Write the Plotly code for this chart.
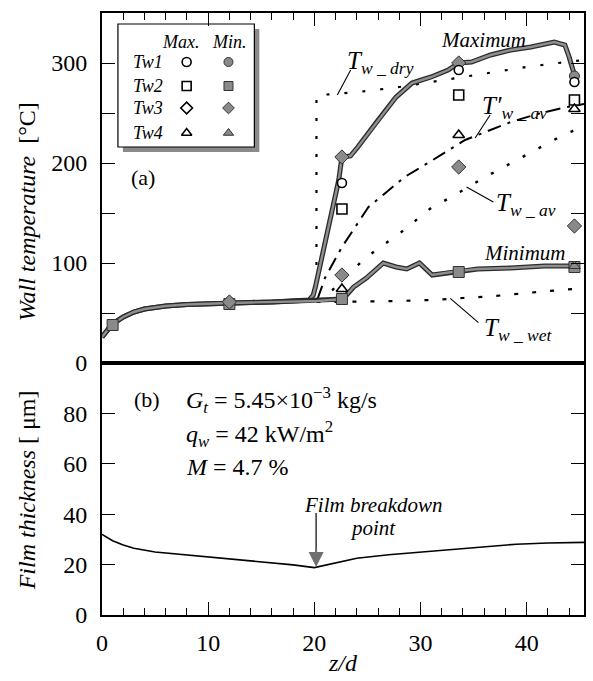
import plotly.graph_objects as go

# ---------------- data ----------------
# (a) wall temperature, maximum / minimum curves
z_max = [0, 0.5, 1, 2, 3, 4, 6, 8, 10, 12, 14, 16, 18, 19.5, 19.9, 20.1, 22.3, 22.6,
         23.4, 24.1, 25.8, 27.7, 29.2, 31.0, 32.6, 33.6, 34.8, 36.6, 38.5, 40.4,
         42.6, 43.6, 44.0, 44.5]
T_max = [26, 33, 39, 46, 51, 54, 57, 58.5, 59.5, 60, 60.5, 61, 62, 63, 68, 76, 183, 206,
         207, 216, 240, 266, 280, 286, 293, 300, 301, 308, 313, 316,
         321, 318, 306, 288]
z_min = [0, 0.5, 1, 2, 3, 4, 6, 8, 10, 12, 14, 16, 18, 19.5, 20.3, 22.7,
         23.7, 24.9, 26.5, 27.7, 28.7, 29.9, 31.1, 33.6, 35.4, 38.5, 41.7, 44.5]
T_min = [26, 33, 39, 46, 51, 54, 57, 58.5, 59.5, 60, 60.5, 61, 62, 62.5, 62, 64,
         76, 85, 100, 96, 94, 100, 88, 92, 94, 95, 97, 97]

z_dry = [20.2, 20.2, 22, 25, 28, 31, 34, 37, 40, 43, 45.4]
T_dry = [62, 268, 269, 272, 276, 281, 286, 291, 296, 300, 303]
z_wet = [20.2, 22.6, 25, 28, 31, 34, 37, 40, 43, 45.4]
T_wet = [61, 61, 61.5, 62, 63, 65, 67, 70, 73, 75]
z_avp = [20.3, 21, 22.6, 25.1, 26.7, 28.5, 30.7, 34.2, 38.5, 41, 43.8, 45.4]
T_avp = [64, 85, 116, 156, 170, 186, 200, 223, 241, 249, 256, 259]
z_av = [20.3, 21.7, 24.8, 28.2, 31.0, 32.9, 36.1, 40.4, 43.8, 45.4]
T_av = [62, 73, 105, 131, 155, 166, 186, 211, 230, 236]

# thermocouple readings
z_tc = [1.0, 12.0, 22.6, 33.6, 44.5]
tw1_max = [None, None, 180, 293, 281]
tw1_min = [None, None, None, None, 287]
tw2_max = [None, None, 154, 268, 263]
tw2_min = [38, 59, 64, 91, 96]
tw3_max = [None, None, None, None, None]
tw3_min = [None, 61, 88, 196, 137]
tw3_on_max = [None, None, 206, 300, None]
tw4_max = [None, None, 74, 228, 254]
tw4_min = [None, None, None, None, 97]

# (b) film thickness
z_film = [0, 1, 2, 3, 5, 8, 10, 12, 15, 18, 20, 22, 24, 27, 30, 33, 36, 39, 42, 45.4]
film = [32, 29.5, 27.8, 26.5, 25, 23.8, 23.2, 22.4, 21.2, 19.9, 18.8, 20.8, 22.5,
        23.9, 24.9, 25.9, 27.1, 28.1, 28.6, 28.8]

x_ticks = [0, 10, 20, 30, 40]
y1_ticks = [0, 100, 200, 300]
y2_ticks = [0, 20, 40, 60, 80]

# ---------------- layout helpers (pixel -> paper) ----------------
W, H = 593, 681
L, R, T, B = 102, 586, 13, 615
MID = 363
def px(x):
    return (x - L) / (R - L)
def py(y):
    return (B - y) / (B - T)

FONT = "'Liberation Serif', 'Times New Roman', Times, 'DejaVu Serif', serif"
fig = go.Figure()

def dline(x, y, dash, width=2.0):
    fig.add_trace(go.Scatter(x=x, y=y, mode="lines",
                             line=dict(color="black", width=width, dash=dash),
                             hoverinfo="skip", showlegend=False))

dline(z_dry, T_dry, "3px,15px", 2.2)
dline(z_wet, T_wet, "4px,14px", 2.2)
dline(z_av, T_av, "3px,15px", 2.4)
dline(z_avp, T_avp, "14px,7px,3px,7px", 2.0)

for zz, tt in [(z_max, T_max), (z_min, T_min)]:
    fig.add_trace(go.Scatter(x=zz, y=tt, mode="lines", line=dict(color="#2b2b2b", width=5),
                             hoverinfo="skip", showlegend=False))
    fig.add_trace(go.Scatter(x=zz, y=tt, mode="lines", line=dict(color="#8f8f8f", width=2.4),
                             hoverinfo="skip", showlegend=False))

FILL = "#8a8a8a"
def marks(y, symbol, filled, size=10):
    if filled:
        m = dict(symbol=symbol, size=size, color=FILL, line=dict(color="#333", width=1))
    else:
        m = dict(symbol=symbol, size=size - 1, color="white", line=dict(color="black", width=1.6))
    fig.add_trace(go.Scatter(x=z_tc, y=y, mode="markers", marker=m,
                             hoverinfo="skip", showlegend=False))

marks(tw2_min, "square", True, 11)
marks(tw3_min, "diamond", True, 11)
marks(tw3_on_max, "diamond", True, 11)
marks(tw4_min, "triangle-up", True, 10)
marks(tw1_min, "circle", True, 10)
marks(tw1_max, "circle", False, 10)
marks(tw2_max, "square", False, 11)
marks(tw3_max, "diamond", False, 11)
marks(tw4_max, "triangle-up", False, 11)

# film thickness
fig.add_trace(go.Scatter(x=z_film, y=film, mode="lines", xaxis="x2", yaxis="y2",
                         line=dict(color="black", width=1.6), hoverinfo="skip", showlegend=False))

# legend symbols on a pixel-unit overlay axis
leg_rows = [62, 86, 108, 133]
leg_syms = ["circle", "square", "diamond", "triangle-up"]
fig.add_trace(go.Scatter(x=[187] * 4, y=leg_rows, xaxis="x3", yaxis="y3", mode="markers",
                         marker=dict(symbol=leg_syms, size=9, color="white",
                                     line=dict(color="black", width=1.6)),
                         hoverinfo="skip", showlegend=False))
fig.add_trace(go.Scatter(x=[229] * 4, y=leg_rows, xaxis="x3", yaxis="y3", mode="markers",
                         marker=dict(symbol=leg_syms, size=9, color=FILL,
                                     line=dict(color="#333", width=1)),
                         hoverinfo="skip", showlegend=False))

tickfont = dict(family=FONT, size=24, color="black")
split = py(MID)
common_x = dict(range=[0, 45.4], showline=True, linecolor="black", linewidth=1.7, mirror=True,
                ticks="inside", ticklen=13, tickwidth=1.2, tickcolor="black", tickvals=x_ticks,
                minor=dict(dtick=2, tick0=0, ticks="inside", ticklen=7, tickwidth=1.1, tickcolor="black"),
                showgrid=False, zeroline=False, tickfont=tickfont)

shapes = []
def seg(x0, y0, x1, y1, w=1.1, color="black"):
    shapes.append(dict(type="line", xref="paper", yref="paper", x0=px(x0), y0=py(y0),
                       x1=px(x1), y1=py(y1), line=dict(color=color, width=w), layer="above"))

# legend box with shadow
shapes.append(dict(type="rect", xref="paper", yref="paper", x0=px(123), y0=py(152), x1=px(260), y1=py(29),
                   fillcolor="#8a8a8a", line=dict(width=0), layer="below"))
shapes.append(dict(type="rect", xref="paper", yref="paper", x0=px(118), y0=py(147), x1=px(255), y1=py(24),
                   fillcolor="white", line=dict(color="black", width=1.2), layer="below"))
# leader lines
seg(351.7, 70, 338.3, 95)
seg(491.7, 115, 476.7, 138)
seg(468, 187, 495, 202)
seg(451.7, 298.3, 480, 322.7)
# arrow shaft
seg(317, 513, 317, 552, 1.2)

ann = []
def text(x, y, s, size=21, xanchor="center", yanchor="middle", angle=0):
    ann.append(dict(x=px(x), y=py(y), xref="paper", yref="paper", text=s, showarrow=False,
                    xanchor=xanchor, yanchor=yanchor, textangle=angle,
                    font=dict(family=FONT, size=size, color="black")))

text(181, 42, "<i>Max.</i>", 18)
text(230, 42, "<i>Min.</i>", 18)
for i, r in enumerate(leg_rows):
    text(148, r, "<i>Tw%d</i>" % (i + 1), 18)
text(143, 178, "(a)", 22)
text(147, 400, "(b)", 22)
text(184, 400, "<i>G</i><sub><i>t</i></sub> = 5.45×10<sup>−3</sup> kg/s", 24, xanchor="left")
text(184, 434, "<i>q</i><sub><i>w</i></sub> = 42 kW/m<sup>2</sup>", 24, xanchor="left")
text(184, 467, "<i>M</i> = 4.7 %", 24, xanchor="left")
text(485, 40, "<i>Maximum</i>", 21)
text(527, 253, "<i>Minimum</i>", 21)
text(374, 505, "<i>Film breakdown</i>", 21)
text(374, 528, "<i>point</i>", 21)
text(346, 62, "<i>T</i><sub><i>w _ dry</i></sub>", 25, xanchor="left")
text(482, 107, "<i>T′</i><sub><i>w _ av</i></sub>", 25, xanchor="left")
text(496, 204, "<i>T</i><sub><i>w _ av</i></sub>", 25, xanchor="left")
text(484, 330, "<i>T</i><sub><i>w _ wet</i></sub>", 25, xanchor="left")
text(344, 663, "<i>z/d</i>", 24)
text(27, 212, "<i>Wall temperature</i>\u00a0\u00a0[°C]", 24, angle=-90)
text(27, 490, "<i>Film thickness</i> [\u00a0μm]", 24, angle=-90)

# arrow head
ann.append(dict(x=px(317), y=py(567), xref="paper", yref="paper", ax=0, ay=-20, text="",
                showarrow=True, arrowhead=2, arrowsize=1.5, arrowwidth=2, arrowcolor="#6f6f6f",
                standoff=0))

fig.update_layout(
    width=W, height=H, margin=dict(l=L, r=W - R, t=T, b=H - B),
    paper_bgcolor="white", plot_bgcolor="white",
    font=dict(family=FONT, size=24, color="black"),
    xaxis=dict(anchor="y", side="top", showticklabels=False, **common_x),
    xaxis2=dict(anchor="y2", showticklabels=True, ticklabelstandoff=5, **common_x),
    yaxis=dict(domain=[split, 1], range=[0, 350], anchor="x", tickvals=y1_ticks,
               minor=dict(dtick=50, tick0=0, ticks="inside", ticklen=13, tickwidth=1.2, tickcolor="black"),
               showline=True, linecolor="black", linewidth=1.7, mirror="ticks", ticks="inside",
               ticklen=13, tickwidth=1.2, tickcolor="black", showgrid=False, zeroline=False,
               tickfont=tickfont, ticklabelstandoff=8),
    yaxis2=dict(domain=[0, split], range=[0, 100], anchor="x2", tickvals=y2_ticks,
                showline=True, linecolor="black", linewidth=1.7, mirror="ticks", ticks="inside",
                ticklen=13, tickwidth=1.2, tickcolor="black", showgrid=False, zeroline=False,
                tickfont=tickfont, ticklabelstandoff=8),
    xaxis3=dict(overlaying="x", anchor="y3", range=[L, R], visible=False),
    yaxis3=dict(overlaying="y", anchor="x3", range=[MID, T], visible=False),
    shapes=shapes, annotations=ann, showlegend=False,
)

fig.write_html("out.html")
